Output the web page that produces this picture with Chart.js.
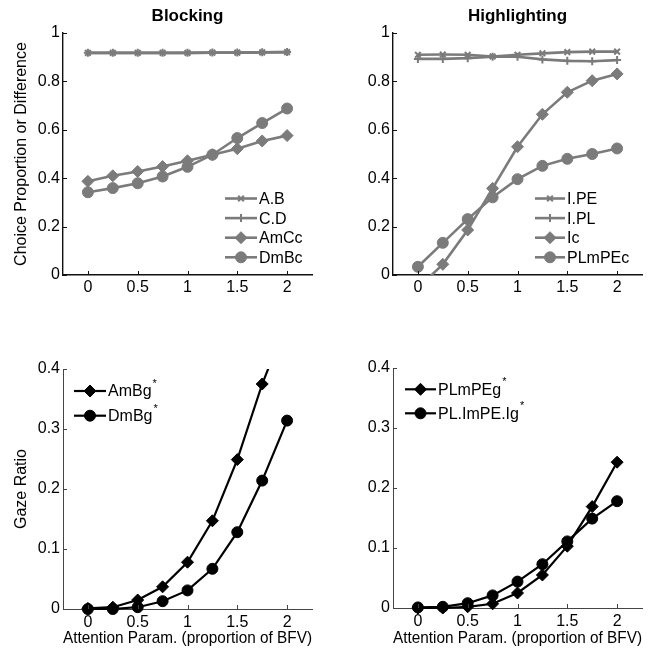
<!DOCTYPE html>
<html>
<head>
<meta charset="utf-8">
<script src="https://cdn.jsdelivr.net/npm/chart.js@4.4.1/dist/chart.umd.min.js"></script>
<style>
html,body{margin:0;padding:0;background:#ffffff;}
#wrap{position:relative;width:663px;height:649px;overflow:hidden;}
canvas{position:absolute;}
</style>
</head>
<body>
<div id="wrap">
<canvas id="c1" width="331" height="300" style="left:0px;top:0px"></canvas>
<canvas id="c2" width="333" height="300" style="left:330px;top:0px"></canvas>
<canvas id="c3" width="331" height="329" style="left:0px;top:320px"></canvas>
<canvas id="c4" width="333" height="329" style="left:330px;top:320px"></canvas>
</div>
<script>
// ---------- data ----------
const xValues = [0, 0.25, 0.5, 0.75, 1, 1.25, 1.5, 1.75, 2];
const xTicks = [0, 0.5, 1, 1.5, 2];
const topYTicks = [0, 0.2, 0.4, 0.6, 0.8, 1];
const bottomYTicks = [0, 0.1, 0.2, 0.3, 0.4];

// Blocking (choice proportions)
const blockAB   = [0.918, 0.918, 0.918, 0.918, 0.918, 0.919, 0.919, 0.920, 0.921];
const blockCD   = [0.918, 0.918, 0.918, 0.918, 0.918, 0.919, 0.919, 0.920, 0.921];
const blockAmCc = [0.387, 0.410, 0.428, 0.448, 0.472, 0.497, 0.522, 0.554, 0.576];
const blockDmBc = [0.342, 0.359, 0.379, 0.407, 0.447, 0.497, 0.566, 0.628, 0.688];

// Highlighting (choice proportions)
const highIPE    = [0.910, 0.911, 0.910, 0.903, 0.910, 0.916, 0.921, 0.923, 0.923];
const highIPL    = [0.893, 0.893, 0.896, 0.902, 0.902, 0.891, 0.885, 0.883, 0.888];
const highIc     = [-0.054, 0.044, 0.186, 0.358, 0.530, 0.664, 0.755, 0.803, 0.831];
const highPLmPEc = [0.034, 0.133, 0.231, 0.321, 0.396, 0.451, 0.480, 0.500, 0.523];

// Gaze ratios
const gazeAmBg       = [0.001, 0.003, 0.015, 0.037, 0.078, 0.147, 0.249, 0.375, 0.480];
const gazeDmBg       = [0.000, 0.000, 0.003, 0.013, 0.031, 0.067, 0.128, 0.214, 0.314];
const gazePLmPEg     = [0.000, 0.000, 0.002, 0.007, 0.025, 0.055, 0.103, 0.169, 0.243];
const gazePLImPEIg   = [0.001, 0.002, 0.008, 0.021, 0.044, 0.073, 0.111, 0.149, 0.178];

// ---------- styling ----------
const FONT = "'Liberation Sans', Arial, Helvetica, sans-serif";
const GRAY = '#7b7b7b';
const BLACK = '#000000';

const pts = arr => arr.map((y, i) => ({x: xValues[i], y}));

function ds(label, data, color, style, radius, lw, extra) {
  return Object.assign({
    label, data: pts(data),
    borderColor: color, backgroundColor: color,
    borderWidth: lw,
    pointStyle: style, pointRadius: radius,
    pointBorderColor: color, pointBackgroundColor: color,
    pointBorderWidth: (style === 'cross' || style === 'crossRot') ? 2 : 1,
    pointHoverRadius: radius,
    tension: 0, clip: false
  }, extra || {});
}

// inward tick marks, MATLAB style
const inwardTicks = {
  id: 'inwardTicks',
  afterDraw(chart, args, opts) {
    const {ctx, chartArea, scales} = chart;
    ctx.save();
    ctx.strokeStyle = opts.color || '#000';
    ctx.lineWidth = opts.width || 1;
    const len = opts.len || 4;
    ctx.beginPath();
    scales.x.ticks.forEach(t => {
      const px = Math.round(scales.x.getPixelForValue(t.value)) + 0.5;
      ctx.moveTo(px, chartArea.bottom);
      ctx.lineTo(px, chartArea.bottom - len);
    });
    scales.y.ticks.forEach(t => {
      const py = Math.round(scales.y.getPixelForValue(t.value)) + 0.5;
      ctx.moveTo(chartArea.left, py);
      ctx.lineTo(chartArea.left + len, py);
    });
    ctx.stroke();
    ctx.restore();
  }
};

// legend drawn inside the plotting area
const insetLegend = {
  id: 'insetLegend',
  afterDraw(chart, args, o) {
    if (!o || !o.show) return;
    const {ctx, chartArea} = chart;
    ctx.save();
    chart.data.datasets.forEach((d, i) => {
      const y = chartArea.top + o.y + i * o.row;
      const x0 = chartArea.left + o.x;
      const x1 = x0 + o.len;
      ctx.strokeStyle = d.borderColor;
      ctx.lineWidth = d.borderWidth;
      ctx.beginPath();
      ctx.moveTo(x0, y);
      ctx.lineTo(x1, y);
      ctx.stroke();
      ctx.fillStyle = d.pointBackgroundColor;
      ctx.strokeStyle = d.pointBorderColor;
      ctx.lineWidth = d.pointBorderWidth;
      Chart.helpers.drawPoint(ctx, {pointStyle: d.pointStyle, radius: d.pointRadius, rotation: 0, borderWidth: d.pointBorderWidth}, (x0 + x1) / 2, y);
      ctx.fillStyle = '#000';
      ctx.font = o.fontSize + 'px ' + FONT;
      ctx.textBaseline = 'middle';
      ctx.textAlign = 'left';
      ctx.fillText(d.label, x1 + o.gap, y + 1);
      if (o.star) {
        const w = ctx.measureText(d.label).width;
        ctx.font = '11px ' + FONT;
        ctx.fillText('*', x1 + o.gap + w + 1, y - 7);
      }
    });
    ctx.restore();
  }
};

function makeChart(id, cfg) {
  const fixedYWidth = 63;
  return new Chart(document.getElementById(id), {
    type: 'line',
    data: {datasets: cfg.datasets},
    plugins: [inwardTicks, insetLegend],
    options: {
      responsive: false,
      animation: false,
      devicePixelRatio: 1,
      layout: {padding: {top: cfg.padTop, right: cfg.padRight, bottom: 0, left: 0}},
      plugins: {
        legend: {display: false},
        tooltip: {enabled: false},
        title: {
          display: !!cfg.title,
          text: cfg.title || '',
          color: '#000',
          fullSize: false,
          font: {family: FONT, size: 17, weight: 'bold', lineHeight: 1.2},
          padding: {top: 6.5, bottom: 6.1}
        },
        inwardTicks: {color: cfg.axisColor, width: 1, len: 4},
        insetLegend: cfg.legend
      },
      scales: {
        x: {
          type: 'linear', min: -0.25, max: 2.25,
          afterBuildTicks: s => { s.ticks = xTicks.map(v => ({value: v})); },
          afterFit: s => { s.height = cfg.xHeight; },
          grid: {display: true, drawOnChartArea: false, drawTicks: false},
          border: {display: true, color: cfg.axisColor, width: cfg.axisWidth},
          ticks: {
            color: '#000', padding: cfg.xTickPad,
            font: {family: FONT, size: 16},
            maxRotation: 0, autoSkip: false,
            callback: v => String(v)
          },
          title: {
            display: !!cfg.xTitle, text: cfg.xTitle || '', color: '#000',
            font: {family: FONT, size: 17, lineHeight: 1.2},
            padding: {top: 0, bottom: 0}
          }
        },
        y: {
          type: 'linear', min: cfg.yMin, max: cfg.yMax,
          afterBuildTicks: s => { s.ticks = cfg.yTicks.map(v => ({value: v})); },
          afterFit: s => { s.width = fixedYWidth; },
          grid: {display: true, drawOnChartArea: false, drawTicks: false},
          border: {display: true, color: cfg.axisColor, width: cfg.axisWidth},
          ticks: {
            color: '#000', padding: 3,
            font: {family: FONT, size: 16},
            autoSkip: false,
            callback: v => String(v)
          },
          title: {
            display: !!cfg.yTitle, text: cfg.yTitle || '', color: '#000',
            font: {family: FONT, size: 16, lineHeight: 1.2},
            padding: {top: 12.4, bottom: 0}
          }
        }
      }
    }
  });
}

const LW_G = 2.6, LW_B = 2.2;

makeChart('c1', {
  title: 'Blocking', padTop: 0, padRight: 19, xHeight: 25, xTickPad: 3,
  yMin: 0, yMax: 1, yTicks: topYTicks,
  yTitle: 'Choice Proportion or Difference',
  axisColor: '#111', axisWidth: 1.4,
  legend: {show: true, x: 162, y: 165.5, row: 19.6, len: 32, gap: 2, fontSize: 16},
  datasets: [
    ds('A.B', blockAB, GRAY, 'crossRot', 4, LW_G),
    ds('C.D', blockCD, GRAY, 'cross', 4, LW_G),
    ds('AmCc', blockAmCc, GRAY, 'rectRot', 6, LW_G),
    ds('DmBc', blockDmBc, GRAY, 'circle', 5.5, LW_G)
  ]
});

makeChart('c2', {
  title: 'Highlighting', padTop: 0, padRight: 21, xHeight: 25, xTickPad: 3,
  yMin: 0, yMax: 1, yTicks: topYTicks,
  axisColor: '#111', axisWidth: 1.4,
  legend: {show: true, x: 142, y: 165.5, row: 19.6, len: 30, gap: 2, fontSize: 16},
  datasets: [
    ds('I.PE', highIPE, GRAY, 'crossRot', 4, LW_G),
    ds('I.PL', highIPL, GRAY, 'cross', 4, LW_G),
    ds('Ic', highIc, GRAY, 'rectRot', 6, LW_G, {clip: {left: false, right: false, top: false, bottom: 1}}),
    ds('PLmPEc', highPLmPEc, GRAY, 'circle', 5.5, LW_G)
  ]
});

makeChart('c3', {
  padTop: 49, padRight: 19, xHeight: 40, xTickPad: 4,
  yMin: 0, yMax: 0.4, yTicks: bottomYTicks,
  yTitle: 'Gaze Ratio', xTitle: 'Attention Param. (proportion of BFV)',
  axisColor: '#444', axisWidth: 1,
  legend: {show: true, x: 11, y: 22, row: 24.7, len: 32, gap: 2, fontSize: 16, star: true},
  datasets: [
    ds('AmBg', gazeAmBg, BLACK, 'rectRot', 6, LW_B, {clip: {left: false, right: false, top: 0, bottom: false}}),
    ds('DmBg', gazeDmBg, BLACK, 'circle', 5.5, LW_B)
  ]
});

makeChart('c4', {
  padTop: 48, padRight: 21, xHeight: 41, xTickPad: 4,
  yMin: 0, yMax: 0.4, yTicks: bottomYTicks,
  xTitle: 'Attention Param. (proportion of BFV)',
  axisColor: '#444', axisWidth: 1,
  legend: {show: true, x: 12, y: 21.3, row: 24, len: 31, gap: 2, fontSize: 16, star: true},
  datasets: [
    ds('PLmPEg', gazePLmPEg, BLACK, 'rectRot', 6, LW_B),
    ds('PL.ImPE.Ig', gazePLImPEIg, BLACK, 'circle', 5.5, LW_B)
  ]
});
</script>
</body>
</html>
